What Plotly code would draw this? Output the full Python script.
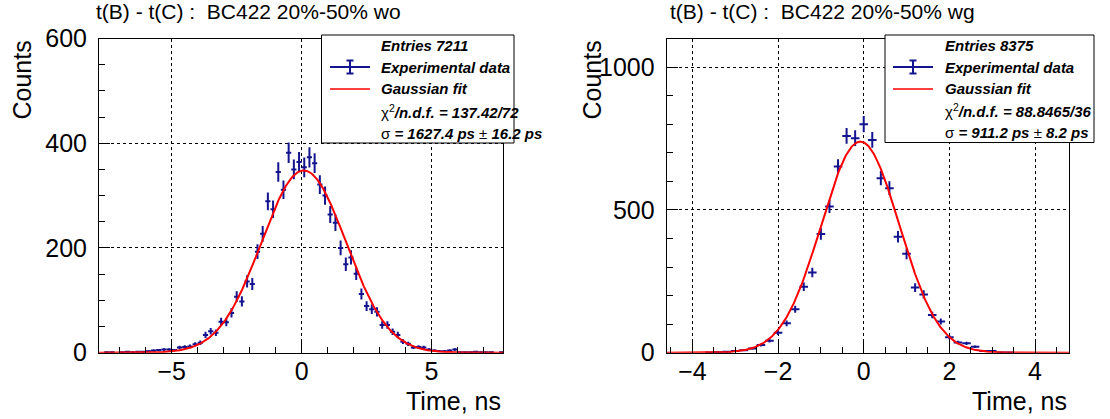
import numpy as np
import plotly.graph_objects as go

W, H = 1110, 419

# ---------------- data ----------------
titles = ["t(B) - t(C) :  BC422 20%-50% wo", "t(B) - t(C) :  BC422 20%-50% wg"]

wo_centers = [round(-7.7 + 0.2 * i, 1) for i in range(78)]
wo_counts = [0, 1, 1, 0, 1, 2, 1, 2, 2, 3, 4, 5, 6, 6, 5, 10, 11, 12, 16, 19,
             34, 41, 38, 59, 58, 76, 107, 98, 136, 131, 193, 227, 289, 274, 345, 311, 382, 350, 364,
             354, 373, 362, 321, 300, 264, 248, 200, 169, 182, 151, 112, 89, 83, 78,
             53, 53, 40, 34, 21, 17, 10, 11, 10, 6, 4, 3, 3, 4, 6, 1, 1, 1, 2, 1, 1, 1, 0, 1]
wo_fit = dict(amp=348.0, mean=0.08, sigma=1.6274)
wo_xrange = [-7.8, 7.75]
wo_yrange = [0, 600]
wo_legend = ["Entries 7211", "Experimental data", "Gaussian fit",
             "χ<sup>2</sup><b><i>/n.d.f. = 137.42/72</i></b>",
             "σ <b><i>= 1627.4 ps</i></b> ± <b><i>16.2 ps</i></b>"]

wg_centers = [round(-3.8 + 0.2 * i, 1) for i in range(38)]
wg_counts = [0, 1, 2, 3, 6, 9, 15, 27, 42, 70, 103, 152, 231, 281, 416, 512, 652,
             759, 751, 800, 745, 611, 576, 406, 346, 228, 204, 132, 109, 54, 36, 33, 21, 6, 6, 1, 1, 0]
wg_fit = dict(amp=739.0, mean=-0.08, sigma=0.9112)
wg_xrange = [-4.6, 4.8]
wg_yrange = [0, 1100]
wg_legend = ["Entries 8375", "Experimental data", "Gaussian fit",
             "χ<sup>2</sup><b><i>/n.d.f. = 88.8465/36</i></b>",
             "σ <b><i>= 911.2 ps</i></b> ± <b><i>8.2 ps</i></b>"]

bin_width = 0.2

# ---------------- style ----------------
FONT = "Liberation Sans, Arial, sans-serif"
NAVY = "#14148f"
RED = "#ff0000"


def px(x):
    return x / W


def py(y):
    return 1 - y / H


fig = go.Figure()

panels = [
    dict(c=wo_centers, n=wo_counts, fit=wo_fit, xr=wo_xrange, yr=wo_yrange, leg=wo_legend,
         xa="x", ya="y", dom=[px(99), px(503)], xdt=5, xmin=1, ydt=200, ymin=50,
         title_x=94, ylab_x=21, box=(321.5, 35, 514, 143), rows=[45, 67, 89, 111.5, 133.5],
         tx=379, sym=(330, 370)),
    dict(c=wg_centers, n=wg_counts, fit=wg_fit, xr=wg_xrange, yr=wg_yrange, leg=wg_legend,
         xa="x2", ya="y2", dom=[px(666.7), px(1069.3)], xdt=2, xmin=0.5, ydt=500, ymin=100,
         title_x=668, ylab_x=591, box=(885, 35, 1094, 142.5), rows=[45.5, 67, 89, 110.5, 132],
         tx=942.5, sym=(893, 933)),
]

shapes = []
annotations = []

for i, p in enumerate(panels):
    c = np.array(p["c"], dtype=float)
    n = np.array(p["n"], dtype=float)
    m = n > 0
    fig.add_trace(go.Scatter(
        x=c[m], y=n[m], mode="markers", xaxis=p["xa"], yaxis=p["ya"],
        marker=dict(size=1, color=NAVY),
        error_x=dict(type="constant", value=bin_width / 2, width=0, thickness=2, color=NAVY),
        error_y=dict(type="data", array=np.sqrt(n[m]), width=0, thickness=2, color=NAVY),
        showlegend=False, hoverinfo="skip"))
    f = p["fit"]
    xf = np.linspace(p["xr"][0], p["xr"][1], 600)
    yf = f["amp"] * np.exp(-0.5 * ((xf - f["mean"]) / f["sigma"]) ** 2)
    fig.add_trace(go.Scatter(x=xf, y=yf, mode="lines", xaxis=p["xa"], yaxis=p["ya"],
                             line=dict(color=RED, width=2), showlegend=False, hoverinfo="skip"))

    axis_common = dict(showline=True, mirror=True, linecolor="black", linewidth=1,
                       ticks="inside", tickcolor="black", ticklen=11, tickwidth=1,
                       showgrid=True, gridcolor="black", griddash="dot", gridwidth=1,
                       zeroline=False, tickfont=dict(family=FONT, size=25, color="black"),
                       automargin=False)
    xkey = "xaxis" if i == 0 else "xaxis2"
    ykey = "yaxis" if i == 0 else "yaxis2"
    fig.update_layout(**{
        xkey: dict(axis_common, domain=p["dom"], range=p["xr"], anchor=p["ya"],
                   tickmode="linear", tick0=0, dtick=p["xdt"], ticklabelstandoff=-4,
                   minor=dict(ticks="inside", ticklen=6, tickcolor="black", dtick=p["xmin"],
                              tick0=0, showgrid=False)),
        ykey: dict(axis_common, domain=[py(352.7), py(38.5)], range=p["yr"], anchor=p["xa"],
                   tickmode="linear", tick0=0, dtick=p["ydt"], ticklabelstandoff=6,
                   minor=dict(ticks="inside", ticklen=6, tickcolor="black", dtick=p["ymin"],
                              tick0=0, showgrid=False)),
    })

    # titles and axis labels
    annotations.append(dict(text=titles[i], x=px(p["title_x"]), y=py(11.5), xref="paper", yref="paper",
                            xanchor="left", yanchor="middle", showarrow=False,
                            font=dict(family=FONT, size=21, color="black")))
    annotations.append(dict(text="Counts", x=px(p["ylab_x"]), y=py(39), xref="paper", yref="paper",
                            xanchor="center", yanchor="top", textangle=-90, showarrow=False,
                            font=dict(family=FONT, size=25, color="black")))
    right_px = p["dom"][1] * W
    annotations.append(dict(text="Time, ns", x=px(right_px), y=py(401), xref="paper", yref="paper",
                            xanchor="right", yanchor="middle", showarrow=False,
                            font=dict(family=FONT, size=25, color="black")))

    # legend box
    x0, y0, x1, y1 = p["box"]
    shapes.append(dict(type="rect", xref="paper", yref="paper", x0=px(x0), x1=px(x1),
                       y0=py(y1), y1=py(y0), line=dict(color="black", width=1),
                       fillcolor="white", layer="above"))
    rows = p["rows"]
    s0, s1 = p["sym"]
    sm = (s0 + s1) / 2
    # data symbol
    shapes.append(dict(type="line", xref="paper", yref="paper", x0=px(s0), x1=px(s1),
                       y0=py(rows[1]), y1=py(rows[1]), line=dict(color=NAVY, width=2), layer="above"))
    shapes.append(dict(type="line", xref="paper", yref="paper", x0=px(sm), x1=px(sm),
                       y0=py(rows[1] - 6.5), y1=py(rows[1] + 6.5), line=dict(color=NAVY, width=2),
                       layer="above"))
    for dy in (-6.5, 6.5):
        shapes.append(dict(type="line", xref="paper", yref="paper", x0=px(sm - 3.5), x1=px(sm + 3.5),
                           y0=py(rows[1] + dy), y1=py(rows[1] + dy), line=dict(color=NAVY, width=2),
                           layer="above"))
    # fit symbol
    shapes.append(dict(type="line", xref="paper", yref="paper", x0=px(s0), x1=px(s1),
                       y0=py(rows[2]), y1=py(rows[2]), line=dict(color=RED, width=1.5), layer="above"))
    for k, txt in enumerate(p["leg"]):
        if k < 3:
            txt = "<b><i>" + txt + "</i></b>"
        annotations.append(dict(text=txt, x=px(p["tx"]), y=py(rows[k]), xref="paper", yref="paper",
                                xanchor="left", yanchor="middle", showarrow=False,
                                font=dict(family=FONT, size=15, color="black")))

fig.update_layout(width=W, height=H, margin=dict(l=0, r=0, t=0, b=0, autoexpand=False),
                  paper_bgcolor="white", plot_bgcolor="white",
                  shapes=shapes, annotations=annotations, showlegend=False)

fig.write_html("out.html")
